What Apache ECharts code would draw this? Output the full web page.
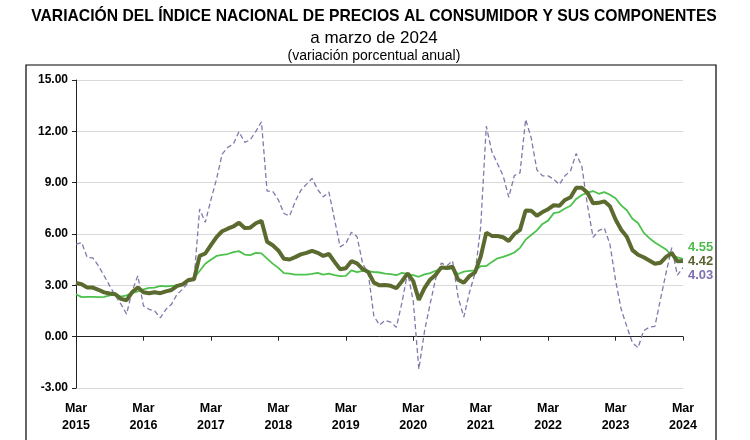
<!DOCTYPE html>
<html><head><meta charset="utf-8">
<script src="https://cdn.jsdelivr.net/npm/echarts@6/dist/echarts.min.js"></script>
<style>html,body{margin:0;padding:0;background:#fff}#c{width:750px;height:440px}</style>
</head><body><div id="c"></div>
<script>
// Months Mar 2015 .. Mar 2024
const monthNames = ['Ene','Feb','Mar','Abr','May','Jun','Jul','Ago','Sep','Oct','Nov','Dic'];
const startYear = 2015, startMonth = 2, nMonths = 109;
const categories = [];
for (let i = 0; i < nMonths; i++) {
  const m = (startMonth + i) % 12;
  const y = startYear + Math.floor((startMonth + i) / 12);
  categories.push(monthNames[m] + ' ' + y);
}

// INPC general (annual % change)
const general = [
  3.14, 3.06, 2.88, 2.87, 2.74, 2.59, 2.52, 2.48, 2.21, 2.13,
  2.61, 2.87, 2.60, 2.54, 2.60, 2.54, 2.65, 2.73, 2.97, 3.06, 3.31, 3.36,
  4.72, 4.86, 5.35, 5.82, 6.16, 6.31, 6.44, 6.66, 6.35, 6.37, 6.63, 6.77,
  5.55, 5.34, 5.04, 4.55, 4.51, 4.65, 4.81, 4.90, 5.02, 4.90, 4.72, 4.83,
  4.37, 3.94, 4.00, 4.41, 4.28, 3.95, 3.78, 3.16, 3.00, 3.02, 2.97, 2.83,
  3.24, 3.70, 3.25, 2.15, 2.84, 3.33, 3.62, 4.05, 4.01, 4.09, 3.33, 3.15,
  3.54, 3.76, 4.67, 6.08, 5.89, 5.88, 5.81, 5.59, 6.00, 6.24, 7.37, 7.36,
  7.07, 7.28, 7.45, 7.68, 7.65, 7.99, 8.15, 8.70, 8.70, 8.41, 7.80, 7.82,
  7.91, 7.62, 6.85, 6.25, 5.84, 5.06, 4.79, 4.64, 4.45, 4.26, 4.32, 4.66,
  4.88, 4.40, 4.42
];
// Subyacente
const subyacente = [
  2.48, 2.31, 2.33, 2.32, 2.31, 2.33, 2.42, 2.47, 2.34, 2.41,
  2.54, 2.64, 2.76, 2.85, 2.87, 2.97, 2.94, 2.97, 2.99, 3.10, 3.29, 3.44,
  3.84, 4.26, 4.49, 4.72, 4.78, 4.83, 4.94, 5.00, 4.80, 4.77, 4.90, 4.87,
  4.56, 4.27, 4.02, 3.71, 3.69, 3.62, 3.63, 3.63, 3.67, 3.73, 3.63, 3.68,
  3.60, 3.54, 3.55, 3.87, 3.77, 3.85, 3.82, 3.78, 3.75, 3.68, 3.65, 3.59,
  3.73, 3.66, 3.60, 3.50, 3.64, 3.71, 3.85, 3.97, 3.99, 3.98, 3.66, 3.80,
  3.84, 3.87, 4.12, 4.13, 4.37, 4.58, 4.66, 4.78, 4.92, 5.19, 5.67, 5.94,
  6.21, 6.59, 6.78, 7.22, 7.28, 7.49, 7.65, 8.05, 8.28, 8.42, 8.51, 8.35,
  8.45, 8.29, 8.09, 7.67, 7.39, 6.89, 6.64, 6.08, 5.76, 5.50, 5.30, 5.09,
  4.76, 4.64, 4.55
];
// No subyacente
const noSubyacente = [
  5.41, 5.50, 4.63, 4.60, 4.14, 3.56, 2.97, 2.39, 1.90, 1.32,
  2.68, 3.56, 1.80, 1.60, 1.50, 1.10, 1.60, 1.90, 2.49, 2.78, 3.17, 3.36,
  7.46, 6.68, 8.00, 9.20, 10.67, 11.06, 11.26, 11.98, 11.36, 11.50, 12.00, 12.56,
  8.50, 8.50, 8.00, 7.20, 7.05, 7.90, 8.55, 8.90, 9.25, 8.60, 8.17, 8.45,
  6.85, 5.25, 5.45, 6.10, 5.85, 4.27, 3.70, 1.20, 0.68, 0.95, 0.85, 0.55,
  2.00, 3.75, 2.10, -1.90, 0.30, 1.90, 3.40, 4.30, 4.15, 4.43, 2.30, 1.15,
  2.59, 3.70, 6.40, 12.30, 10.80, 10.10, 9.40, 8.15, 9.42, 9.57, 12.70, 11.60,
  9.75, 9.40, 9.40, 9.20, 8.90, 9.40, 9.70, 10.70, 9.95, 7.70, 5.80, 6.20,
  6.35, 5.40, 3.30, 1.60, 0.60, -0.35, -0.65, 0.35, 0.55, 0.60, 2.20, 3.75,
  5.20, 3.60, 4.03
];

const titleText = 'VARIACIÓN DEL ÍNDICE NACIONAL DE PRECIOS AL CONSUMIDOR Y SUS COMPONENTES';
const subtitle1 = 'a marzo de 2024';
const subtitle2 = '(variación porcentual anual)';
const yMin = -3, yMax = 15, yStep = 3;

const FF = 'Liberation Sans, Arial, sans-serif';
const chart = echarts.init(document.getElementById('c'), null, {renderer: 'canvas'});
const yearTick = (i) => i % 12 === 0;

chart.setOption({
  animation: false,
  backgroundColor: '#fff',
  textStyle: {fontFamily: FF},
  grid: {left: 76, right: 67, top: 80, bottom: 52},
  graphic: [
    {type: 'rect', shape: {x: 26, y: 65, width: 690, height: 400},
     style: {fill: 'none', stroke: '#000', lineWidth: 1.2}, silent: true},
    {type: 'text', x: 374, y: 17, style: {text: titleText, font: 'bold 15.7px ' + FF, fill: '#000', textAlign: 'center', textVerticalAlign: 'middle', align: 'center', verticalAlign: 'middle'}},
    {type: 'text', x: 374, y: 38, style: {text: subtitle1, font: '17px ' + FF, fill: '#000', textAlign: 'center', textVerticalAlign: 'middle', align: 'center', verticalAlign: 'middle'}},
    {type: 'text', x: 374, y: 56, style: {text: subtitle2, font: '14px ' + FF, fill: '#000', textAlign: 'center', textVerticalAlign: 'middle', align: 'center', verticalAlign: 'middle'}}
  ],
  xAxis: [
    {type: 'category', data: categories, boundaryGap: false,
     axisLine: {show: false, onZero: false}, axisTick: {show: false},
     axisLabel: {interval: yearTick, formatter: (v) => v.replace(' ', '\n'),
       fontWeight: 'bold', fontSize: 12.5, color: '#000', margin: 12, lineHeight: 17, fontFamily: FF},
     splitLine: {show: false}},
    {type: 'category', data: categories, boundaryGap: false, position: 'bottom',
     axisLine: {show: true, onZero: true, lineStyle: {color: '#222', width: 1}},
     axisTick: {show: true, interval: yearTick, length: 4, lineStyle: {color: '#222'}},
     axisLabel: {show: false}, splitLine: {show: false}}
  ],
  yAxis: {type: 'value', min: yMin, max: yMax, interval: yStep,
    axisLine: {show: true, lineStyle: {color: '#222'}},
    axisTick: {show: true, length: 4, lineStyle: {color: '#222'}},
    axisLabel: {formatter: (v) => v.toFixed(2), fontWeight: 'bold', fontSize: 12, color: '#000', margin: 8, fontFamily: FF},
    splitLine: {lineStyle: {color: '#d9d9d9', width: 1}}},
  series: [
    {name: 'No subyacente', type: 'line', data: noSubyacente, symbol: 'none', xAxisIndex: 0,
     lineStyle: {color: '#8079ab', width: 1.3, type: [5, 3]},
     endLabel: {show: true, formatter: (p) => p.value.toFixed(2), color: '#7f6fb0', fontWeight: 'bold', fontSize: 13, offset: [0, 8], distance: 5, fontFamily: FF}},
    {name: 'Subyacente', type: 'line', data: subyacente, symbol: 'none', xAxisIndex: 0,
     lineStyle: {color: '#4cc24c', width: 1.8},
     endLabel: {show: true, formatter: (p) => p.value.toFixed(2), color: '#4cbb4c', fontWeight: 'bold', fontSize: 13, offset: [0, -11], distance: 5, fontFamily: FF}},
    {name: 'General', type: 'line', data: general, symbol: 'none', xAxisIndex: 0,
     lineStyle: {color: '#5b6a2f', width: 4},
     endLabel: {show: true, formatter: (p) => p.value.toFixed(2), color: '#5a6331', fontWeight: 'bold', fontSize: 13, offset: [0, 0], distance: 5, fontFamily: FF}}
  ]
});
</script>
</body></html>
